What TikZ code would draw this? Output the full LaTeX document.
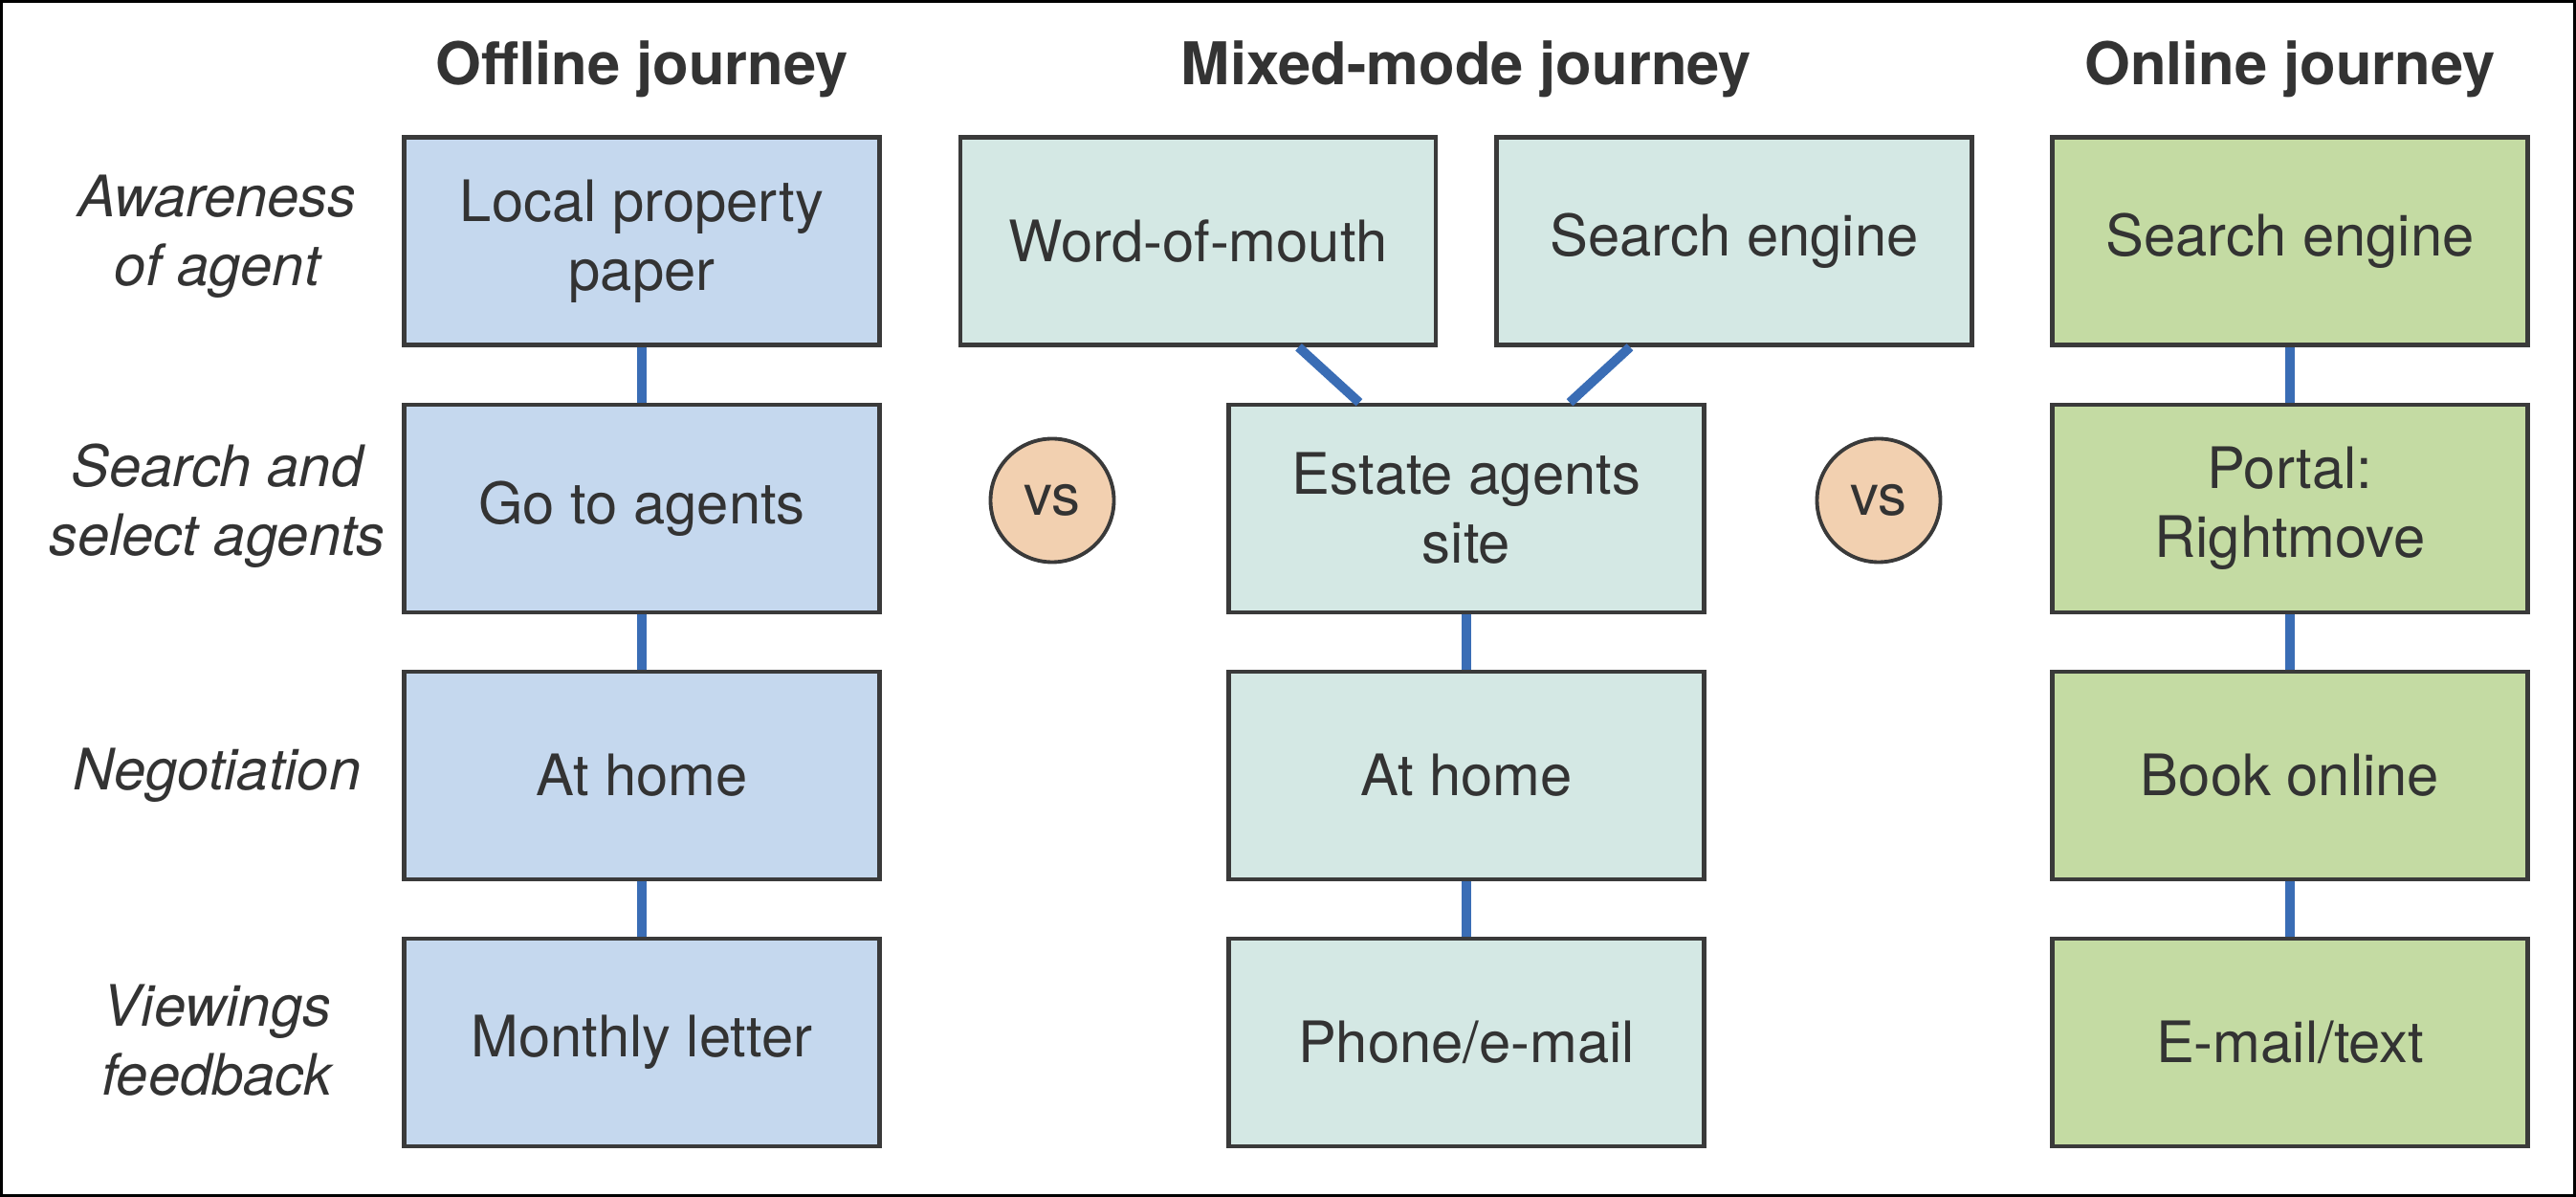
\documentclass[tikz,border=0pt]{standalone}
\usepackage{fontspec}
\setmainfont{TeX Gyre Heros}
\usetikzlibrary{calc}
% Colours
\definecolor{txtgray}{HTML}{333333}
\definecolor{boxline}{HTML}{3A3A3A}
\definecolor{offblue}{HTML}{C5D8EE}
\definecolor{mixgreen}{HTML}{D4E8E4}
\definecolor{ongreen}{HTML}{C4DBA3}
\definecolor{vsorange}{HTML}{F2D0B0}
\definecolor{linkblue}{HTML}{3A6DB5}
\tikzset{
  stage/.style={draw=boxline, line width=1.3pt, minimum width=4.97cm, minimum height=2.17cm,
    inner sep=0pt, align=center, text=txtgray, font=\fontsize{17}{20.5}\selectfont},
  offbox/.style={stage, fill=offblue},
  mixbox/.style={stage, fill=mixgreen},
  onbox/.style={stage, fill=ongreen},
  link/.style={draw=linkblue, line width=2.8pt},
  phase/.style={align=center, text=txtgray, font=\fontsize{17}{20.5}\selectfont\itshape},
  heading/.style={text=txtgray, font=\fontsize{17.5}{21}\selectfont\bfseries},
  versus/.style={circle, draw=boxline, line width=1.1pt, fill=vsorange, minimum size=1.29cm,
    inner sep=0pt, text=txtgray, font=\fontsize{17}{20}\selectfont}
}
\begin{document}
\begin{tikzpicture}
	% Cadre
	\useasboundingbox					(0,0)		rectangle	(26.93,-12.51)	;
	\draw [line width=0.9pt]			(0.015,-0.015)	rectangle	(26.915,-12.495)	;
	% Titres
	\node [heading] (hoff)	at (6.71, -0.72)	{Offline journey};
	\node [heading] (hmix)	at (15.33, -0.72)	{Mixed-mode journey};
	\node [heading] (hon)	at (23.94, -0.72)	{Online journey};
	% Etapes
	\node [phase] (paware)	at (2.27, -2.47)	{Awareness\\of agent};
	\node [phase] (psearch)	at (2.27, -5.29)	{Search and\\select agents};
	\node [phase] (pnego)	at (2.27, -8.105)	{Negotiation};
	\node [phase] (pview)	at (2.27, -10.87)	{Viewings\\feedback};
	% Connecteurs
	\draw [link] (6.71,-3.6)		-- (6.71,-4.23);
	\draw [link] (6.71,-6.4)		-- (6.71,-7.02);
	\draw [link] (6.71,-9.19)		-- (6.71,-9.81);
	% Hors ligne
	\node [offbox] (off1)	at (6.71, -2.52)	{Local property\\paper};
	\node [offbox] (off2)	at (6.71, -5.315)	{Go to agents};
	\node [offbox] (off3)	at (6.71, -8.105)	{At home};
	\node [offbox] (off4)	at (6.71, -10.895)	{Monthly letter};
	% Mixte
	\node [mixbox] (mixwom)		at (12.525, -2.52)	{Word-of-mouth};
	\node [mixbox] (mixsearch)	at (18.13, -2.52)	{Search engine};
	\node [mixbox] (mix2)		at (15.33, -5.315)	{Estate agents\\site};
	\node [mixbox] (mix3)		at (15.33, -8.105)	{At home};
	\node [mixbox] (mix4)		at (15.33, -10.895)	{Phone/e-mail};
	% En ligne
	\node [onbox] (on1)	at (23.94, -2.52)	{Search engine};
	\node [onbox] (on2)	at (23.94, -5.315)	{Portal:\\Rightmove};
	\node [onbox] (on3)	at (23.94, -8.105)	{Book online};
	\node [onbox] (on4)	at (23.94, -10.895)	{E-mail/text};
	% Versus
	\node [versus] (vs1)	at (11.0, -5.23)	{vs};
	\node [versus] (vs2)	at (19.64, -5.23)	{vs};
	% Liens
	\draw [link] (off1.south)	-- (off2.north);
	\draw [link] (off2.south)	-- (off3.north);
	\draw [link] (off3.south)	-- (off4.north);
	\draw [link] ($(mixwom.south)+(1.05,0)$)	-- ($(mix2.north)+(-1.12,0)$);
	\draw [link] ($(mixsearch.south)+(-1.09,0)$)	-- ($(mix2.north)+(1.08,0)$);
	\draw [link] (mix2.south)	-- (mix3.north);
	\draw [link] (mix3.south)	-- (mix4.north);
	\draw [link] (on1.south)	-- (on2.north);
	\draw [link] (on2.south)	-- (on3.north);
	\draw [link] (on3.south)	-- (on4.north);
\end{tikzpicture}
\end{document}
